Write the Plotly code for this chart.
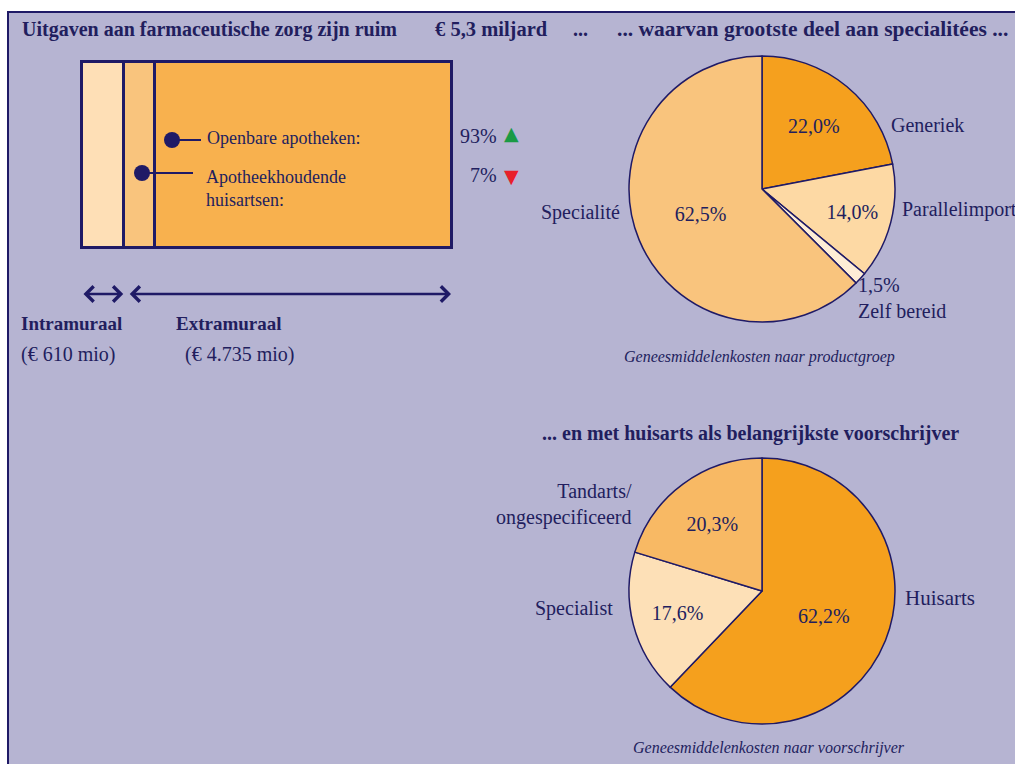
import plotly.graph_objects as go

# ---------------- data ----------------
title_parts = ["Uitgaven aan farmaceutische zorg zijn ruim", "€ 5,3 miljard", "...",
               "... waarvan grootste deel aan specialitées ..."]

box_segments = ["Intramuraal", "Apotheekhoudende huisartsen", "Openbare apotheken"]
box_values = [610, 450, 4285]
box_colors = ["#FEDFB6", "#F9C47D", "#F8B14E"]
channel_labels = ["Openbare apotheken:", "Apotheekhoudende<br>huisartsen:"]
channel_shares = ["93%", "7%"]
sector_labels = ["Intramuraal", "Extramuraal"]
sector_amounts = ["(€ 610 mio)", "(€ 4.735 mio)"]

prod_labels = ["Generiek", "Parallelimport", "Zelf bereid", "Specialité"]
prod_values = [22.0, 14.0, 1.5, 62.5]
prod_colors = ["#F5A01E", "#FDD9A4", "#FEEDD6", "#F9C47D"]

presc_labels = ["Huisarts", "Specialist", "Tandarts/<br>ongespecificeerd"]
presc_values = [62.2, 17.6, 20.3]
presc_colors = ["#F5A01D", "#FDE0B7", "#F8B964"]

# ---------------- style ----------------
W, H = 1015, 764
NAVY = "#1F1A66"
TXT = "#221E5E"
BG = "#B6B4D2"
SERIF = "Liberation Serif"


def fmt(v):
    return f"{v:.1f}".replace(".", ",") + "%"


def px(x):
    return x / W


def py(y):
    return 1 - y / H


fig = go.Figure()

# ---------- stacked box (bar) ----------
total = sum(box_values)
bx0, bx1, by0, by1 = 82, 452, 62, 248
pad = 3
sx = (bx1 - bx0) / total
sy = (by1 - by0) / 1.0
for name, v, c in zip(box_segments, box_values, box_colors):
    fig.add_trace(go.Bar(y=[0], x=[v], orientation="h", width=1, name=name,
                         marker=dict(color=c, line=dict(color=NAVY, width=3)),
                         showlegend=False, hoverinfo="skip"))

# ---------- pies ----------
R = 133
c1 = (762, 189)
c2 = (762, 591)
fig.add_trace(go.Pie(values=prod_values, labels=prod_labels, sort=False, direction="clockwise",
                     rotation=0,
                     text=[fmt(v) if v > 5 else "" for v in prod_values], textinfo="text",
                     textposition="inside", insidetextorientation="horizontal",
                     textfont=dict(family=SERIF, size=20, color=TXT),
                     marker=dict(colors=prod_colors, line=dict(color=NAVY, width=1.5)),
                     domain=dict(x=[px(c1[0] - R), px(c1[0] + R)], y=[py(c1[1] + R), py(c1[1] - R)]),
                     showlegend=False, hoverinfo="label+value"))
fig.add_trace(go.Pie(values=presc_values, labels=presc_labels, sort=False, direction="clockwise",
                     rotation=0,
                     text=[fmt(v) for v in presc_values], textinfo="text",
                     textposition="inside", insidetextorientation="horizontal",
                     textfont=dict(family=SERIF, size=20, color=TXT),
                     marker=dict(colors=presc_colors, line=dict(color=NAVY, width=1.5)),
                     domain=dict(x=[px(c2[0] - R), px(c2[0] + R)], y=[py(c2[1] + R), py(c2[1] - R)]),
                     showlegend=False, hoverinfo="label+value"))

ann = []
shapes = []


def text(x, y, s, size=20, xanchor="left", bold=False, italic=False, color=TXT, family=SERIF, align=None):
    if bold:
        s = f"<b>{s}</b>"
    if italic:
        s = f"<i>{s}</i>"
    ann.append(dict(x=px(x), y=py(y), xref="paper", yref="paper", text=s, showarrow=False,
                    xanchor=xanchor, yanchor="middle", align=align or xanchor,
                    font=dict(family=family, size=size, color=color)))


# panel background
shapes.append(dict(type="rect", xref="paper", yref="paper", x0=px(8), x1=px(1030),
                   y0=py(790), y1=py(12), fillcolor=BG, line=dict(color=NAVY, width=2), layer="below"))

# header
text(20, 29, title_parts[0], size=20, bold=True)
text(433, 29, title_parts[1], size=20.5, bold=True)
text(571, 29, title_parts[2], size=20, bold=True)
text(615, 29, title_parts[3], size=21.5, bold=True)

# box annotations
shapes.append(dict(type="circle", xref="paper", yref="paper", x0=px(164), x1=px(180), y0=py(148), y1=py(132),
                   fillcolor=NAVY, line=dict(width=0)))
shapes.append(dict(type="line", xref="paper", yref="paper", x0=px(172), x1=px(201), y0=py(140), y1=py(140),
                   line=dict(color=NAVY, width=2)))
shapes.append(dict(type="circle", xref="paper", yref="paper", x0=px(134), x1=px(150), y0=py(181), y1=py(165),
                   fillcolor=NAVY, line=dict(width=0)))
shapes.append(dict(type="line", xref="paper", yref="paper", x0=px(142), x1=px(193), y0=py(173), y1=py(173),
                   line=dict(color=NAVY, width=2)))
text(205, 138, channel_labels[0], size=18)
text(204, 188, channel_labels[1], size=18)
text(499, 136, channel_shares[0], size=20, xanchor="right")
text(499, 175, channel_shares[1], size=20, xanchor="right")
text(511, 133, "▲", size=19, xanchor="center", color="#1A9A45", family="DejaVu Sans")
text(511, 176, "▼", size=19, xanchor="center", color="#E8202A", family="DejaVu Sans")

# arrows in bar data coordinates
ya = py(294)
ann.append(dict(x=box_values[0], y=ya, ax=0, ay=0, xref="x", yref="paper", axref="x", ayref="pixel",
                showarrow=True, arrowside="end+start", arrowhead=4, startarrowhead=4, arrowsize=1.3,
                startarrowsize=1.3, arrowwidth=2.3, arrowcolor=NAVY, text="", standoff=1, startstandoff=0))
ann.append(dict(x=total, y=ya, ax=box_values[0], ay=0, xref="x", yref="paper", axref="x", ayref="pixel",
                showarrow=True, arrowside="end+start", arrowhead=4, startarrowhead=4, arrowsize=1.3,
                startarrowsize=1.3, arrowwidth=2.3, arrowcolor=NAVY, text="", standoff=1, startstandoff=4))

text(19, 323, sector_labels[0], size=19, bold=True)
text(174, 323, sector_labels[1], size=19, bold=True)
text(19, 355, sector_amounts[0], size=20)
text(183, 355, sector_amounts[1], size=20)

# pie 1 labels
text(889, 125, prod_labels[0])
text(900, 210, prod_labels[1])
text(856, 298, fmt(prod_values[2]) + "<br>" + prod_labels[2])
text(622, 212, prod_labels[3], xanchor="right")
text(759, 357, "Geneesmiddelenkosten naar productgroep", size=16, xanchor="center", italic=True)

# pie 2
text(750, 433, "... en met huisarts als belangrijkste voorschrijver", size=20, xanchor="center", bold=True)
text(903, 598, presc_labels[0], size=21)
text(615, 608, presc_labels[1], xanchor="right")
text(634, 504, presc_labels[2], xanchor="right")
text(769, 748, "Geneesmiddelenkosten naar voorschrijver", size=16, xanchor="center", italic=True)

# axes for the box
x_lo = -(pad / sx)
x_hi = total + pad / sx
y_lo = -0.5 - pad / sy
y_hi = 0.5 + pad / sy
fig.update_layout(
    width=W, height=H, margin=dict(l=0, r=0, t=0, b=0),
    paper_bgcolor="white", plot_bgcolor="rgba(0,0,0,0)",
    barmode="stack", bargap=0,
    xaxis=dict(domain=[px(bx0 - pad), px(bx1 + pad)], range=[x_lo, x_hi], visible=False, fixedrange=True),
    yaxis=dict(domain=[py(by1 + pad), py(by0 - pad)], range=[y_lo, y_hi], visible=False, fixedrange=True),
    annotations=ann, shapes=shapes,
    font=dict(family=SERIF, color=TXT),
)

fig.write_html("out.html", config={"displayModeBar": False},
               post_script="document.body.style.margin='0';document.body.style.overflow='hidden';")
